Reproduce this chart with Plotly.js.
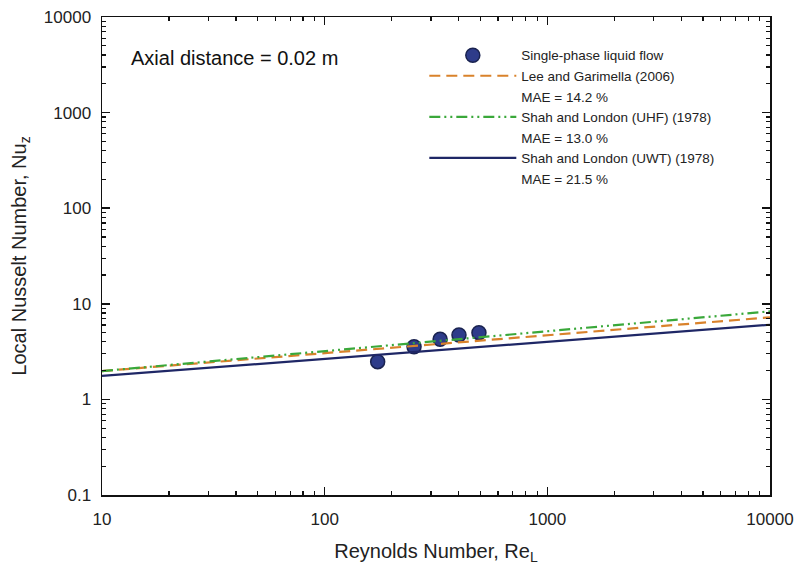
<!DOCTYPE html>
<html>
<head>
<meta charset="utf-8">
<script src="https://cdn.plot.ly/plotly-3.0.1.min.js"></script>
<style>html,body{margin:0;padding:0;background:#fff;}#chart{width:800px;height:572px;}</style>
</head>
<body>
<div id="chart"></div>
<script>
// Measured data: single-phase liquid flow
const reData = [173, 252, 330, 401, 493];
const nuData = [2.48, 3.56, 4.25, 4.72, 4.99];

// Correlation lines (straight in log-log), read at the axis ends
const reLine = [10, 10000];
const nuLee = [1.98, 7.22];
const nuUHF = [1.98, 8.34];
const nuUWT = [1.76, 6.04];

const names = [
  'Single-phase liquid flow',
  'Lee and Garimella (2006)',
  'MAE = 14.2 %',
  'Shah and London (UHF) (1978)',
  'MAE = 13.0 %',
  'Shah and London (UWT) (1978)',
  'MAE = 21.5 %'
];

const font = 'Arial, "Liberation Sans", sans-serif';
const blank = {x: [null], y: [null], mode: 'lines', line: {color: 'rgba(0,0,0,0)', width: 0}, hoverinfo: 'skip'};

const traces = [
  {x: reData, y: nuData, mode: 'markers', name: names[0],
   marker: {size: 14, color: '#2e3c8a', line: {color: '#1a2350', width: 1.5}}},
  {x: reLine, y: nuLee, mode: 'lines', name: names[1],
   line: {color: '#d9822b', width: 2.2, dash: '11px,6px'}},
  Object.assign({name: names[2]}, blank),
  {x: reLine, y: nuUHF, mode: 'lines', name: names[3],
   line: {color: '#3aa83a', width: 2.2, dash: '11px,4px,2px,4px,2px,4px'}},
  Object.assign({name: names[4]}, blank),
  {x: reLine, y: nuUWT, mode: 'lines', name: names[5],
   line: {color: '#1f2766', width: 2.2}},
  Object.assign({name: names[6]}, blank)
];

const axisCommon = {
  type: 'log', showgrid: false, zeroline: false,
  showline: true, linecolor: '#111', linewidth: 1.5, mirror: 'ticks',
  ticks: 'inside', ticklen: 8, tickwidth: 1.5, tickcolor: '#111',
  dtick: 1, tickformat: '~g',
  tickfont: {family: font, size: 17, color: '#222'},
  minor: {dtick: 'D1', ticks: 'inside', ticklen: 4, tickwidth: 1.2, tickcolor: '#111', showgrid: false}
};

const layout = {
  width: 800, height: 572,
  margin: {l: 102, r: 30, t: 17, b: 77},
  paper_bgcolor: '#fff', plot_bgcolor: '#fff',
  showlegend: true,
  legend: {x: 0.4825, y: 0.952, xanchor: 'left', yanchor: 'top', bgcolor: 'rgba(0,0,0,0)',
           font: {family: font, size: 13.5, color: '#222'}, itemwidth: 87, tracegroupgap: 0},
  xaxis: Object.assign({}, axisCommon, {
    range: [1, 4], ticklabelstandoff: 8,
    title: {text: 'Reynolds Number, Re<sub>L</sub>', font: {family: font, size: 20, color: '#222'}, standoff: 16}
  }),
  yaxis: Object.assign({}, axisCommon, {
    range: [-1, 4], ticklabelstandoff: 6,
    title: {text: 'Local Nusselt Number, Nu<sub>z</sub>', font: {family: font, size: 20, color: '#222'}, standoff: 12}
  }),
  annotations: [{
    xref: 'paper', yref: 'paper', x: 0.04, y: 0.915, xanchor: 'left', yanchor: 'middle',
    text: 'Axial distance = 0.02 m', showarrow: false,
    font: {family: font, size: 20, color: '#111'}
  }]
};

Plotly.newPlot('chart', traces, layout, {displayModeBar: false, staticPlot: true});
</script>
</body>
</html>
